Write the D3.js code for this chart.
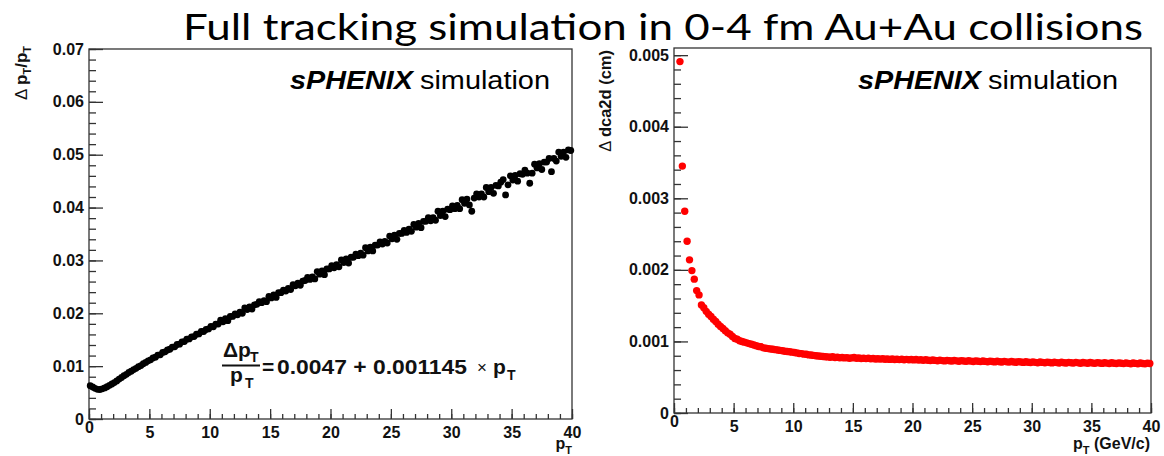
<!DOCTYPE html>
<meta charset="utf-8">
<style>
    body { margin: 0; background: #fff; }
    text { font-family: "Liberation Sans", Arial, Helvetica, sans-serif; }
    .axis .domain { display: none; }
    .axis line { stroke: #333; stroke-width: 1.3; }
    .axis text { font-size: 16px; font-weight: bold; fill: #111; }
    .frame { fill: none; stroke: #333; stroke-width: 1.3; }
    .lbl { font-weight: bold; fill: #111; }
</style>
<svg width="1164" height="456"></svg>
<script src="https://d3js.org/d3.v7.min.js"></script>
<script>

    // 200 pT bins of 0.2 GeV/c between 0 and 40, by centre
    var ptBins = d3.range(0.1, 40, 0.2);

    // left: delta pT / pT, in units of 1e-3
    var dptOverPt = [
        6.30, 6.05, 5.80, 5.62, 5.58, 5.70, 5.88, 6.10, 6.38, 6.62,
        6.90, 7.20, 7.55, 7.85, 8.20, 8.45, 8.80, 9.05, 9.35, 9.58,
        9.90, 10.10, 10.45, 10.70, 11.00, 11.20, 11.55, 11.70, 12.10, 12.15,
        12.60, 12.70, 13.05, 13.20, 13.60, 13.65, 14.10, 14.15, 14.60, 14.65,
        15.10, 15.15, 15.55, 15.60, 16.05, 16.10, 16.55, 16.55, 16.95, 17.05,
        17.50, 17.45, 17.95, 17.95, 18.7, 18.4, 19.0, 18.6, 19.4, 19.4,
        19.9, 19.7, 20.2, 20.0, 21.0, 20.7, 21.2, 20.8, 21.6, 21.7,
        22.2, 22.0, 22.4, 22.2, 23.2, 22.9, 23.5, 23.0, 23.9, 23.9,
        24.4, 24.2, 24.7, 24.5, 25.4, 25.2, 25.7, 25.3, 26.1, 26.2,
        26.8, 26.4, 26.9, 26.5, 27.9, 27.4, 28.0, 27.3, 28.4, 28.4,
        29.0, 28.6, 29.2, 28.8, 30.1, 29.6, 30.3, 29.5, 30.6, 30.6,
        31.2, 30.9, 31.4, 31.0, 32.4, 31.8, 32.5, 31.8, 32.9, 32.9,
        33.5, 33.1, 33.6, 33.3, 34.6, 34.1, 34.8, 34.0, 35.1, 35.1,
        35.7, 35.3, 35.9, 35.5, 36.8, 36.3, 37.0, 36.2, 37.4, 37.4,
        38.1, 37.5, 38.1, 37.6, 39.3, 38.5, 39.3, 38.3, 39.7, 39.6,
        40.3, 39.8, 40.4, 39.8, 41.5, 40.8, 41.6, 40.5, 39.3, 41.8,
        42.6, 42.0, 42.6, 42.0, 43.8, 43.0, 43.8, 42.7, 44.2, 44.1,
        44.8, 45.3, 42.4, 44.3, 46.0, 45.2, 46.1, 45.0, 46.4, 46.3,
        47.1, 46.5, 44.6, 46.5, 48.2, 47.5, 48.3, 47.2, 48.6, 48.6,
        49.3, 46.8, 49.3, 48.8, 50.5, 49.7, 50.5, 49.5, 50.9, 50.8
    ];

    // right: delta dca2d in cm, in units of 1e-3 (first two bins empty)
    var dca2d = [
        null, null, 4.91, 3.45, 2.82, 2.40, 2.14, 1.99, 1.87, 1.71,
        1.65, 1.51, 1.47, 1.42, 1.38, 1.35, 1.31, 1.28, 1.24, 1.21,
        1.18, 1.15, 1.12, 1.10, 1.07, 1.04, 1.03, 1.01, 1.00, 0.99,
        0.98, 0.97, 0.96, 0.95, 0.94, 0.93, 0.925, 0.91, 0.905, 0.90,
        0.895, 0.89, 0.885, 0.88, 0.875, 0.87, 0.862, 0.86, 0.855, 0.85,
        0.845, 0.84, 0.832, 0.83, 0.822, 0.82, 0.812, 0.81, 0.805, 0.80,
        0.797, 0.792, 0.79, 0.786, 0.784, 0.78, 0.785, 0.776, 0.779, 0.772,
        0.776, 0.770, 0.774, 0.766, 0.770, 0.775, 0.764, 0.768, 0.761, 0.766,
        0.760, 0.764, 0.757, 0.762, 0.755, 0.759, 0.753, 0.758, 0.751, 0.755,
        0.749, 0.754, 0.748, 0.752, 0.746, 0.750, 0.744, 0.749, 0.743, 0.747,
        0.742, 0.748, 0.739, 0.745, 0.736, 0.744, 0.738, 0.733, 0.741, 0.735,
        0.731, 0.739, 0.732, 0.728, 0.736, 0.730, 0.726, 0.734, 0.729, 0.724,
        0.732, 0.727, 0.722, 0.730, 0.725, 0.720, 0.729, 0.723, 0.718, 0.727,
        0.721, 0.716, 0.725, 0.719, 0.714, 0.723, 0.717, 0.712, 0.721, 0.715,
        0.711, 0.719, 0.713, 0.709, 0.718, 0.712, 0.707, 0.716, 0.710, 0.705,
        0.714, 0.708, 0.703, 0.713, 0.707, 0.702, 0.711, 0.706, 0.700, 0.710,
        0.704, 0.699, 0.709, 0.703, 0.698, 0.708, 0.702, 0.697, 0.707, 0.701,
        0.696, 0.706, 0.700, 0.695, 0.705, 0.699, 0.694, 0.704, 0.698, 0.693,
        0.703, 0.697, 0.692, 0.702, 0.696, 0.691, 0.701, 0.695, 0.690, 0.700,
        0.694, 0.689, 0.699, 0.693, 0.688, 0.698, 0.692, 0.687, 0.697, 0.691
    ];

    var xTicks = [0, 5, 10, 15, 20, 25, 30, 35, 40],
        xMinor = d3.range(0, 41, 1),
        leftYTicks = [0, 0.01, 0.02, 0.03, 0.04, 0.05, 0.06, 0.07],
        rightYTicks = [0, 0.001, 0.002, 0.003, 0.004, 0.005];

    var svg = d3.select("svg");

    svg.append("text")
        .attr("x", 183).attr("y", 40)
        .attr("textLength", 960).attr("lengthAdjust", "spacingAndGlyphs")
        .style("font-family", "Lato, 'Open Sans', sans-serif")
        .style("font-size", "36px")
        .text("Full tracking simulation in 0-4 fm Au+Au collisions");

    function drawPanel(p) {
        var x = d3.scaleLinear().domain([0, 40]).range([p.left, p.right]),
            y = d3.scaleLinear().domain([0, p.ymax]).range([p.bottom, p.top]);

        var g = svg.append("g");

        g.append("rect").attr("class", "frame")
            .attr("x", p.left).attr("y", p.top)
            .attr("width", p.right - p.left).attr("height", p.bottom - p.top);

        // minor ticks
        g.append("g").attr("class", "axis")
            .attr("transform", "translate(0," + p.bottom + ")")
            .call(d3.axisBottom(x).tickValues(xMinor).tickSize(-5).tickFormat(""));
        g.append("g").attr("class", "axis")
            .attr("transform", "translate(" + p.left + ",0)")
            .call(d3.axisLeft(y).tickValues(p.yMinor).tickSize(-7).tickFormat(""));

        // major ticks with labels
        var xa = g.append("g").attr("class", "axis")
            .attr("transform", "translate(0," + p.bottom + ")")
            .call(d3.axisBottom(x).tickValues(xTicks).tickSize(-10).tickPadding(8));
        xa.selectAll(".tick text").filter(function(d) { return d === 0; })
            .attr("y", 3);

        g.append("g").attr("class", "axis")
            .attr("transform", "translate(" + p.left + ",0)")
            .call(d3.axisLeft(y).tickValues(p.yTicks).tickSize(-14).tickPadding(5)
                .tickFormat(function(d) { return d === 0 ? "0" : d3.format(p.fmt)(d); }));

        var pts = ptBins.map(function(pt, i) { return {pt: pt, v: p.values[i]}; })
            .filter(function(d) { return d.v != null; });

        g.selectAll(".pt")
            .data(pts)
            .enter().append("circle")
            .attr("class", "pt")
            .attr("cx", function(d) { return x(d.pt); })
            .attr("cy", function(d) { return y(d.v / 1000); })
            .attr("r", p.r)
            .attr("fill", p.color);

        // sPHENIX label
        g.append("text").attr("x", p.labelX).attr("y", 89)
            .style("font-size", "25px").style("font-weight", "bold").style("font-style", "italic")
            .attr("textLength", 123).attr("lengthAdjust", "spacingAndGlyphs")
            .text("sPHENIX");
        g.append("text").attr("x", p.labelX + 130).attr("y", 89)
            .style("font-size", "25px")
            .attr("textLength", 130).attr("lengthAdjust", "spacingAndGlyphs")
            .text("simulation");

        return {x: x, y: y, g: g};
    }

    drawPanel({
        left: 89, right: 572, top: 49, bottom: 419,
        ymax: 0.07, yTicks: leftYTicks, yMinor: d3.range(0, 0.0701, 0.002), fmt: ".2f",
        values: dptOverPt, color: "#000", r: 3.4, labelX: 290
    });

    drawPanel({
        left: 674, right: 1151, top: 48, bottom: 413,
        ymax: 0.0051, yTicks: rightYTicks, yMinor: d3.range(0, 0.00501, 0.0002), fmt: ".3f",
        values: dca2d, color: "#ff0000", r: 3.7, labelX: 858
    });

    // axis titles
    var ylt = svg.append("text").attr("class", "lbl")
        .attr("transform", "translate(27,46) rotate(-90)")
        .attr("text-anchor", "end").style("font-size", "17px");
    ylt.append("tspan").style("font-weight", "normal").text("\u0394 ");
    ylt.append("tspan").text("p");
    ylt.append("tspan").attr("dy", 4).style("font-size", "11px").text("T");
    ylt.append("tspan").attr("dy", -4).text("/p");
    ylt.append("tspan").attr("dy", 4).style("font-size", "11px").text("T");

    var yrt = svg.append("text").attr("class", "lbl")
        .attr("transform", "translate(611,50) rotate(-90)")
        .attr("text-anchor", "end").style("font-size", "16.5px");
    yrt.append("tspan").style("font-weight", "normal").text("\u0394 ");
    yrt.append("tspan").text("dca2d (cm)");

    var xlt = svg.append("text").attr("class", "lbl")
        .attr("x", 572).attr("y", 449).attr("text-anchor", "end").style("font-size", "16px");
    xlt.append("tspan").text("p");
    xlt.append("tspan").attr("dy", 5).style("font-size", "11px").text("T");

    var xrt = svg.append("text").attr("class", "lbl")
        .attr("x", 1150).attr("y", 449).attr("text-anchor", "end").style("font-size", "16px");
    xrt.append("tspan").text("p");
    xrt.append("tspan").attr("dy", 5).style("font-size", "11px").text("T");
    xrt.append("tspan").attr("dy", -5).text(" (GeV/c)");

    // fit formula
    var f = svg.append("g").attr("class", "lbl").style("font-size", "21px");
    f.append("text").attr("x", 223).attr("y", 357).text("\u0394p");
    f.append("text").attr("x", 250).attr("y", 362).style("font-size", "14px").text("T");
    f.append("line").attr("x1", 222).attr("x2", 260).attr("y1", 365.5).attr("y2", 365.5)
        .attr("stroke", "#111").attr("stroke-width", 2);
    f.append("text").attr("x", 230).attr("y", 382).text("p");
    f.append("text").attr("x", 245).attr("y", 388).style("font-size", "14px").text("T");
    f.append("text").attr("x", 262).attr("y", 374).text("=");
    f.append("text").attr("x", 277).attr("y", 374)
        .attr("textLength", 190).attr("lengthAdjust", "spacingAndGlyphs")
        .text("0.0047 + 0.001145");
    f.append("text").attr("x", 477).attr("y", 373).style("font-weight", "normal")
        .style("font-size", "17px").text("\u00d7");
    f.append("text").attr("x", 493).attr("y", 374).text("p");
    f.append("text").attr("x", 507).attr("y", 380).style("font-size", "14px").text("T");
</script>
